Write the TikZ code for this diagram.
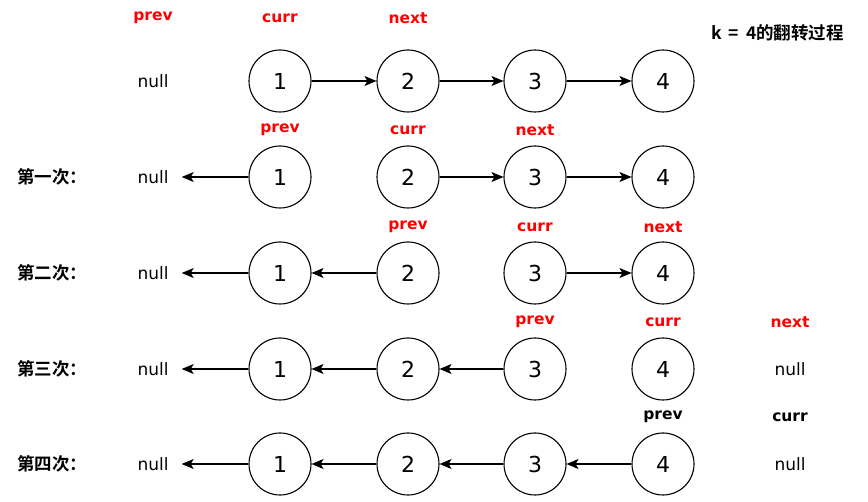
\documentclass[tikz,border=0pt]{standalone}
\usepackage{fontspec}
\setmainfont{DejaVu Sans}
\newfontfamily\cjkbold[BoldFont={Noto Sans CJK SC Bold}]{Noto Sans CJK SC}
\usetikzlibrary{arrows.meta}
\begin{document}
\begin{tikzpicture}[x=1pt,y=-1pt,
  lnode/.style={circle,draw,line width=1.1pt,minimum size=62pt,inner sep=0pt,font=\fontsize{22}{22}\selectfont},
  nulltext/.style={font=\fontsize{17}{17}\selectfont,inner ysep=2pt,inner xsep=13pt},
  ptr/.style={font=\bfseries\fontsize{15.5}{15.5}\selectfont,text=red,inner sep=1pt},
  ptrk/.style={font=\bfseries\fontsize{15.5}{15.5}\selectfont,text=black,inner sep=1pt},
  steptag/.style={font=\cjkbold\bfseries\fontsize{17.5}{17.5}\selectfont,inner sep=0pt},
  link/.style={line width=1.1pt,-{Stealth[length=12pt,width=10pt,inset=3pt]}}
]
\useasboundingbox (0,0) rectangle (868,502);

% title
\node[font=\cjkbold\bfseries\fontsize{17.5}{17.5}\selectfont,anchor=west,inner sep=0pt] (title) at (711,33) {k\hspace{7pt}=\hspace{7pt}4的翻转过程};

% row 0: initial list
\node[ptr] (p0) at (153,18) {prev};
\node[ptr] (c0) at (280,18) {curr};
\node[ptr] (n0) at (408,18) {next};
\node[nulltext] (z0) at (153,81) {null};
\node[lnode] (a01) at (280,81) {1};
\node[lnode] (a02) at (408,81) {2};
\node[lnode] (a03) at (535,81) {3};
\node[lnode] (a04) at (663,81) {4};
\draw[link] (a01) -- (a02);
\draw[link] (a02) -- (a03);
\draw[link] (a03) -- (a04);

% row 1
\node[steptag] (s1) at (52,177) {第一次：};
\node[ptr] (p1) at (280,130) {prev};
\node[ptr] (c1) at (408,130) {curr};
\node[ptr] (n1) at (535,130) {next};
\node[nulltext] (z1) at (153,177) {null};
\node[lnode] (a11) at (280,177) {1};
\node[lnode] (a12) at (408,177) {2};
\node[lnode] (a13) at (535,177) {3};
\node[lnode] (a14) at (663,177) {4};
\draw[link] (a11) -- (z1);
\draw[link] (a12) -- (a13);
\draw[link] (a13) -- (a14);

% row 2
\node[steptag] (s2) at (52,273) {第二次：};
\node[ptr] (p2) at (408,227) {prev};
\node[ptr] (c2) at (535,227) {curr};
\node[ptr] (n2) at (663,227) {next};
\node[nulltext] (z2) at (153,273) {null};
\node[lnode] (a21) at (280,273) {1};
\node[lnode] (a22) at (408,273) {2};
\node[lnode] (a23) at (535,273) {3};
\node[lnode] (a24) at (663,273) {4};
\draw[link] (a21) -- (z2);
\draw[link] (a22) -- (a21);
\draw[link] (a23) -- (a24);

% row 3
\node[steptag] (s3) at (52,369) {第三次：};
\node[ptr] (p3) at (535,322) {prev};
\node[ptr] (c3) at (663,322) {curr};
\node[ptr] (n3) at (790,322) {next};
\node[nulltext] (z3) at (153,369) {null};
\node[lnode] (a31) at (280,369) {1};
\node[lnode] (a32) at (408,369) {2};
\node[lnode] (a33) at (535,369) {3};
\node[lnode] (a34) at (663,369) {4};
\node[nulltext] (e3) at (790,369) {null};
\draw[link] (a31) -- (z3);
\draw[link] (a32) -- (a31);
\draw[link] (a33) -- (a32);

% row 4
\node[steptag] (s4) at (52,464) {第四次：};
\node[ptrk] (p4) at (663,417) {prev};
\node[ptrk] (c4) at (790,417) {curr};
\node[nulltext] (z4) at (153,464) {null};
\node[lnode] (a41) at (280,464) {1};
\node[lnode] (a42) at (408,464) {2};
\node[lnode] (a43) at (535,464) {3};
\node[lnode] (a44) at (663,464) {4};
\node[nulltext] (e4) at (790,464) {null};
\draw[link] (a41) -- (z4);
\draw[link] (a42) -- (a41);
\draw[link] (a43) -- (a42);
\draw[link] (a44) -- (a43);
\end{tikzpicture}
\end{document}
